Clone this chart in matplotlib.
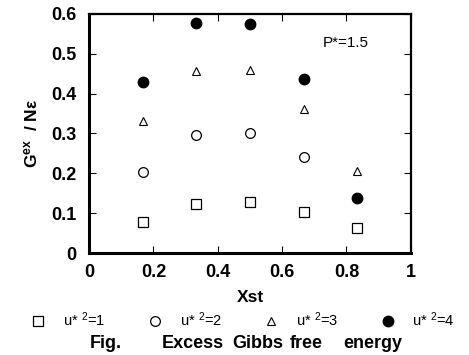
import matplotlib.pyplot as plt

plt.rcParams['font.family'] = ['Liberation Sans', 'DejaVu Sans']
plt.rcParams['mathtext.fontset'] = 'custom'
plt.rcParams['mathtext.bf'] = 'Liberation Sans:bold'
plt.rcParams['mathtext.rm'] = 'Liberation Sans'
plt.rcParams['mathtext.it'] = 'Liberation Sans'

# composition (mole fraction) and G^ex / N eps for each u*^2
xst = [1 / 6, 1 / 3, 1 / 2, 2 / 3, 5 / 6]
g_u1 = [0.077, 0.123, 0.127, 0.102, 0.062]
g_u2 = [0.204, 0.295, 0.301, 0.242]
g_u3 = [0.332, 0.456, 0.460, 0.362, 0.207]
g_u4 = [0.429, 0.578, 0.575, 0.437, 0.138]
labels = [r"u* $\mathrm{^{2}}$=1", r"u* $\mathrm{^{2}}$=2",
          r"u* $\mathrm{^{2}}$=3", r"u* $\mathrm{^{2}}$=4"]


def main():
    fig = plt.figure(figsize=(4.69, 3.55), dpi=100)
    ax = fig.add_axes([0.19, 0.287, 0.686, 0.674])

    h1, = ax.plot(xst, g_u1, ls='none', marker='s', ms=7, mfc='white', mec='black', mew=0.9)
    h2, = ax.plot(xst[:4], g_u2, ls='none', marker='o', ms=7, mfc='white', mec='black', mew=0.9)
    h3, = ax.plot(xst, g_u3, ls='none', marker='^', ms=6, mfc='white', mec='black', mew=0.8)
    h4, = ax.plot(xst, g_u4, ls='none', marker='o', ms=7.5, mfc='black', mec='black')

    ax.set_xlim(0, 1)
    ax.set_ylim(0, 0.6)
    ax.set_xticks([0, 0.2, 0.4, 0.6, 0.8, 1])
    ax.set_xticklabels(["0", "0.2", "0.4", "0.6", "0.8", "1"])
    ax.set_yticks([0, 0.1, 0.2, 0.3, 0.4, 0.5, 0.6])
    ax.set_yticklabels(["0", "0.1", "0.2", "0.3", "0.4", "0.5", "0.6"])
    ax.tick_params(direction='in', length=5, width=0.8, top=True, right=True,
                   labelsize=13)
    ax.tick_params(axis='x', pad=8)
    ax.tick_params(axis='y', pad=9)
    for lab in ax.get_xticklabels() + ax.get_yticklabels():
        lab.set_fontweight('bold')
    for side in ['left', 'bottom']:
        ax.spines[side].set_linewidth(2.2)
    for side in ['top', 'right']:
        ax.spines[side].set_linewidth(1.6)

    ax.text(0.727, 0.527, "P*=1.5", fontsize=11, va='center')
    ax.set_xlabel("Xst", fontsize=12.5, fontweight='bold', labelpad=6)
    ax.set_ylabel(r"$\mathbf{G^{ex}}$  / N$\mathbf{\varepsilon}$", fontsize=12.5,
                  fontweight='bold', labelpad=8)

    fig.legend([h1, h2, h3, h4], labels, loc='center', ncol=4,
               bbox_to_anchor=(0.518, 0.099), frameon=False, fontsize=10.5,
               handlelength=1.0, handletextpad=1.2, columnspacing=2.9)

    ycap = 1 - 344 / 355
    for xpix, word in [(90, "Fig."), (162, "Excess"), (232, "Gibbs"),
                       (290, "free"), (343, "energy")]:
        fig.text(xpix / 469, ycap, word, fontsize=13, fontweight='bold', va='center')

    fig.savefig("out.png", dpi=100)


if __name__ == "__main__":
    main()
